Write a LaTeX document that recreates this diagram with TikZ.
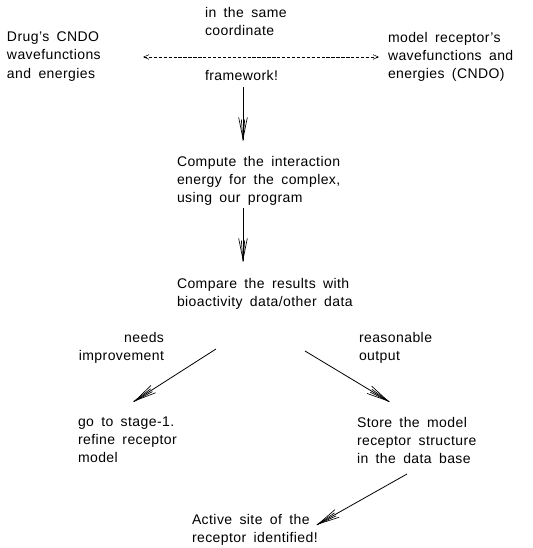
\documentclass[tikz,border=0pt]{standalone}
\usepackage{fontspec}
\setmainfont[WordSpace=1.7,LetterSpace=3]{Liberation Sans}
\usetikzlibrary{arrows.meta}
\begin{document}
\begin{tikzpicture}[x=0.75pt,y=-0.75pt,
  txt/.style={inner sep=0pt,outer sep=0pt,align=left,anchor=north west,
    font=\fontsize{10.5}{13.6}\selectfont},
  flow/.style={line width=0.6pt,
    -{Straight Barb[length=16pt,width=6.5pt,line width=0.5pt,sep=-16pt]Straight Barb[length=16pt,width=2.5pt,line width=0.5pt]}},
  dashline/.style={line width=0.4pt,dash pattern=on 2.5pt off 1.2pt,
    {Straight Barb[length=4pt,width=3.5pt]}-{Straight Barb[length=4pt,width=3.5pt]}}
]
\useasboundingbox (0,0) rectangle (532,548);
\node[txt] (drug) at (7,32) {Drug’s CNDO\\wavefunctions\\and energies};
\node[txt] (same) at (205,7) {in the same\\coordinate};
\node[txt] (frame) at (205,70) {framework!};
\node[txt] (model) at (388,32) {model receptor’s\\wavefunctions and\\energies (CNDO)};
\node[txt] (compute) at (177,156) {Compute the interaction\\energy for the complex,\\using our program};
\node[txt] (compare) at (177,278) {Compare the results with\\bioactivity data/other data};
\node[txt,align=right,anchor=north east] (needs) at (164,332) {needs\\improvement};
\node[txt] (reason) at (359,332) {reasonable\\output};
\node[txt] (goto) at (78,417) {go to stage-1.\\refine receptor\\model};
\node[txt] (store) at (357,417) {Store the model\\receptor structure\\in the data base};
\node[txt] (active) at (192,514) {Active site of the\\receptor identified!};

\coordinate (d1) at (143,57);
\coordinate (d2) at (379,57);
\coordinate (a1s) at (243,87);
\coordinate (a1e) at (243,145);
\coordinate (a2s) at (243,208);
\coordinate (a2e) at (243,266);
\coordinate (a3s) at (216,349);
\coordinate (a3e) at (130,404);
\coordinate (a4s) at (305,351);
\coordinate (a4e) at (393,404);
\coordinate (a5s) at (407,474);
\coordinate (a5e) at (313,527);

\draw[dashline] (d1) -- (d2);
\draw[flow] (a1s) -- (a1e);
\draw[flow] (a2s) -- (a2e);
\draw[flow] (a3s) -- (a3e);
\draw[flow] (a4s) -- (a4e);
\draw[flow] (a5s) -- (a5e);
\end{tikzpicture}
\end{document}
